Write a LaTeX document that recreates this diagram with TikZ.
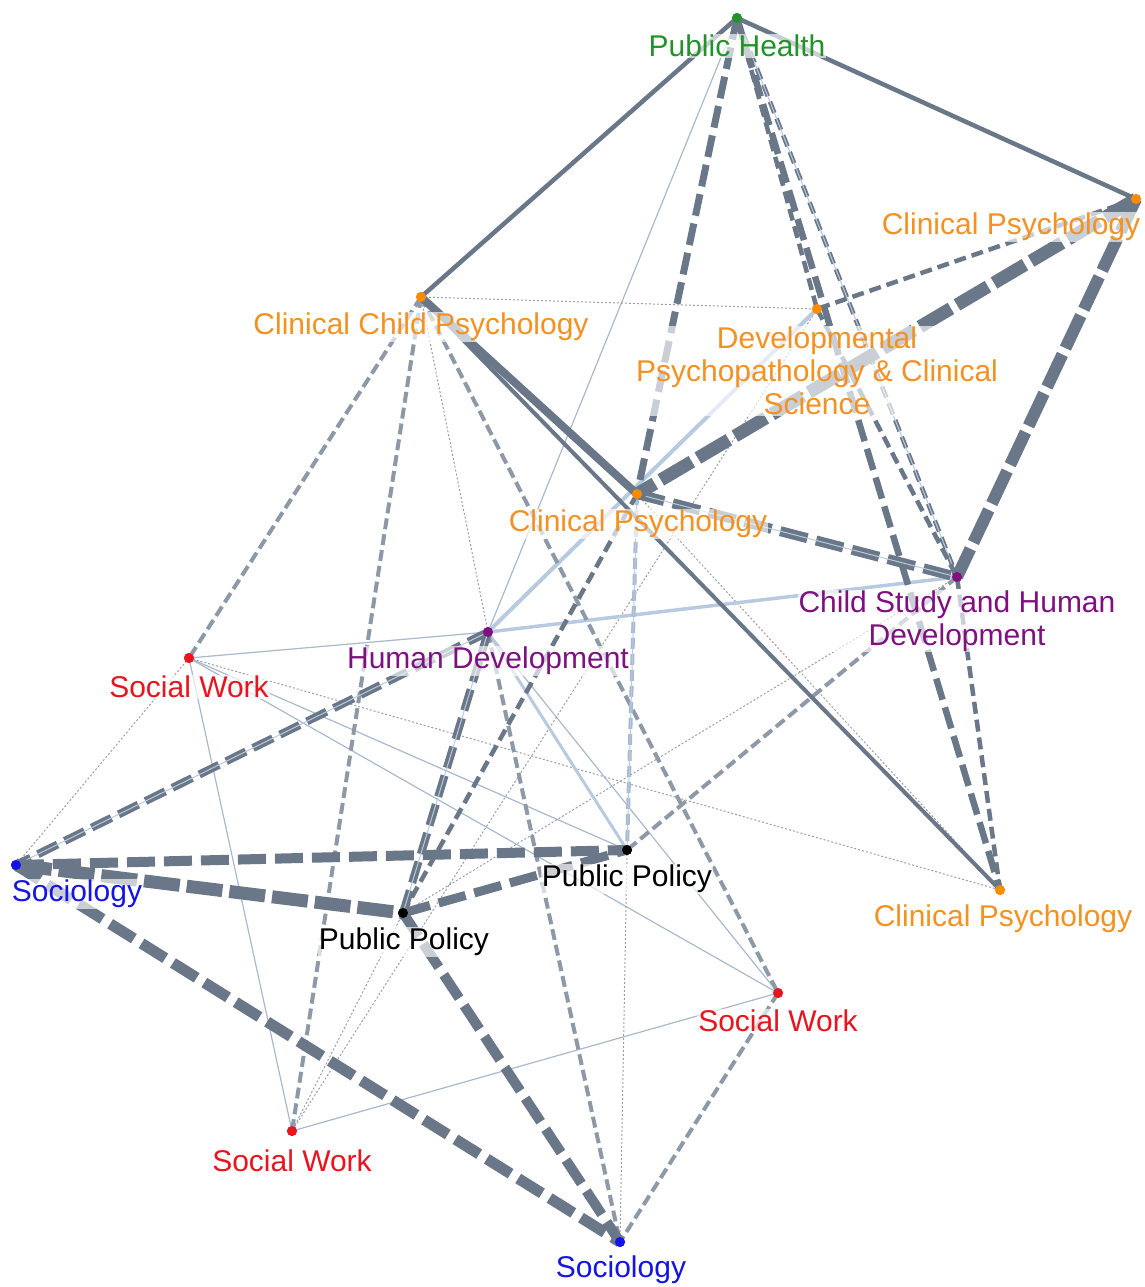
\documentclass[tikz,border=0pt]{standalone}
\usepackage{fontspec}
\setmainfont{Liberation Sans}
\definecolor{edark}{HTML}{6A7788}
\definecolor{emid}{HTML}{8E99A8}
\definecolor{elight}{HTML}{B8CADF}
\definecolor{ethin}{HTML}{A9B9CD}
\definecolor{edot}{HTML}{9A9EA6}
\definecolor{corange}{HTML}{F39122}
\definecolor{dorange}{HTML}{FF8C00}
\definecolor{cgreen}{HTML}{23922A}
\definecolor{cpurple}{HTML}{7E1080}
\definecolor{cred}{HTML}{E8141E}
\definecolor{cblue}{HTML}{1414E6}
\begin{document}
\begin{tikzpicture}[x=1pt,y=-1pt,
  vtx/.style={circle, inner sep=0pt, minimum size=10pt},
  lbl/.style={font=\fontsize{30}{33}\selectfont, fill=white, fill opacity=0.65, text opacity=1, inner sep=1pt, align=center},
  sd/.style={draw=edark, line width=#1},
  sl/.style={draw=elight, line width=#1},
  thn/.style={draw=ethin, line width=1.2pt},
  dotl/.style={draw=edot, line width=1pt, dash pattern=on 2pt off 2pt},
  dA/.style={draw=edark, line width=#1, dash pattern=on 36pt off 7pt},
  dB/.style={draw=edark, line width=#1, dash pattern=on 28pt off 9pt},
  dC/.style={draw=edark, line width=#1, dash pattern=on 22pt off 8pt},
  dD/.style={draw=edark, line width=4.5pt, dash pattern=on 12pt off 6pt},
  dE/.style={draw=emid, line width=4pt, dash pattern=on 11pt off 5pt},
  dF/.style={draw=ethin, line width=4pt, dash pattern=on 11pt off 5pt},
  mid/.style={draw=elight, line width=1pt}
]
\useasboundingbox (0,0) rectangle (1145,1287);
% vertices
\node[vtx, fill=cgreen]  (PH)  at (737,18) {};
\node[vtx, fill=dorange] (CP1) at (1136,199) {};
\node[vtx, fill=dorange] (CCP) at (421,297) {};
\node[vtx, fill=dorange] (DP)  at (817,309) {};
\node[vtx, fill=dorange] (CP2) at (637,494) {};
\node[vtx, fill=cpurple] (CS)  at (957,577) {};
\node[vtx, fill=cpurple] (HD)  at (488,632) {};
\node[vtx, fill=cred]    (SW1) at (189,658) {};
\node[vtx, fill=cblue]   (So1) at (16,865) {};
\node[vtx, fill=black]   (PP1) at (627,850) {};
\node[vtx, fill=black]   (PP2) at (403,913) {};
\node[vtx, fill=dorange] (CP3) at (1000,890) {};
\node[vtx, fill=cred]    (SW2) at (778,993) {};
\node[vtx, fill=cred]    (SW3) at (292,1131) {};
\node[vtx, fill=cblue]   (So2) at (620,1242) {};
% thin edges
\draw[thn] (PH.center) -- (HD.center);
\draw[thn] (HD.center) -- (SW1.center);
\draw[thn] (HD.center) -- (SW2.center);
\draw[thn] (SW1.center) -- (PP1.center);
\draw[thn] (SW1.center) -- (SW2.center);
\draw[thn] (SW1.center) -- (SW3.center);
\draw[thn] (SW2.center) -- (SW3.center);
\draw[dotl] (CCP.center) -- (DP.center);
\draw[dotl] (CCP.center) -- (HD.center);
\draw[dotl] (DP.center) -- (SW3.center);
\draw[dotl] (CP2.center) -- (CP3.center);
\draw[dotl] (CS.center) -- (PP2.center);
\draw[dotl] (SW1.center) -- (So1.center);
\draw[dotl] (SW1.center) -- (CP3.center);
\draw[dotl] (PP2.center) -- (SW3.center);
\draw[dotl] (PP1.center) -- (So2.center);
% light edges
\draw[sl=4pt] (DP.center) -- (HD.center);
\draw[sl=3.5pt] (CS.center) -- (HD.center);
\draw[sl=3pt] (HD.center) -- (PP1.center);
% medium dashed
\draw[dE] (CCP.center) -- (SW1.center);
\draw[dE] (CCP.center) -- (SW3.center);
\draw[dE] (CCP.center) -- (SW2.center);
\draw[dE] (HD.center) -- (So2.center);
\draw[dE] (CS.center) -- (PP1.center);
\draw[dE] (SW2.center) -- (So2.center);
\draw[dF] (CP2.center) -- (PP1.center);
\draw[mid] (CP2.center) -- (PP1.center);
\draw[dD] (PH.center) -- (DP.center);
\draw[dD] (PH.center) -- (CS.center);
\draw[mid] (PH.center) -- (CS.center);
\draw[dD] (CP1.center) -- (DP.center);
\draw[dD] (DP.center) -- (CS.center);
\draw[dD] (CS.center) -- (CP3.center);
\draw[dD] (CP2.center) -- (PP2.center);
% solid dark
\draw[sd=4.5pt] (PH.center) -- (CCP.center);
\draw[sd=4.5pt] (PH.center) -- (CP1.center);
\draw[sd=4pt] (CCP.center) -- (CP3.center);
\draw[sd=8pt] (CCP.center) -- (CP2.center);
% thick dashed
\draw[dC=7pt] (PH.center) -- (CP2.center);
\draw[dC=6.5pt] (PH.center) -- (CP3.center);
\draw[dC=8pt] (HD.center) -- (So1.center);
\draw[mid] (HD.center) -- (So1.center);
\draw[dC=8pt] (HD.center) -- (PP2.center);
\draw[mid] (HD.center) -- (PP2.center);
\draw[dB=10pt] (CP2.center) -- (CS.center);
\draw[mid] (CP2.center) -- (CS.center);
\draw[dB=10pt] (So1.center) -- (PP1.center);
\draw[dB=9pt] (PP2.center) -- (PP1.center);
\draw[dB=11pt] (So1.center) -- (So2.center);
\draw[dB=10pt] (PP2.center) -- (So2.center);
\draw[dA=13pt] (So1.center) -- (PP2.center);
\draw[dA=13pt] (CP1.center) -- (CP2.center);
\draw[dA=12pt] (CP1.center) -- (CS.center);
% redraw vertex dots on top
\foreach \n/\c in {PH/cgreen,CP1/dorange,CCP/dorange,DP/dorange,CP2/dorange,CS/cpurple,HD/cpurple,SW1/cred,So1/cblue,PP1/black,PP2/black,CP3/dorange,SW2/cred,SW3/cred,So2/cblue}
  \fill[\c] (\n.center) circle (5pt);
% labels
\node[lbl, text=cgreen]  (PHl)  at (737,46)   {Public Health};
\node[lbl, text=corange] (CP1l) at (1011,227) {Clinical Psychology};
\node[lbl, text=corange] (CCPl) at (421,327)  {Clinical Child Psychology};
\node[lbl, text=corange] (DPl)  at (817,371)  {Developmental\\Psychopathology \& Clinical\\Science};
\node[lbl, text=corange] (CP2l) at (638,524)  {Clinical Psychology};
\node[lbl, text=cpurple] (CSl)  at (957,621)  {Child Study and Human\\Development};
\node[lbl, text=cpurple] (HDl)  at (488,661)  {Human Development};
\node[lbl, text=cred]    (SW1l) at (189,687)  {Social Work};
\node[lbl, text=cblue]   (So1l) at (77,894)   {Sociology};
\node[lbl, text=black]   (PP1l) at (627,879)  {Public Policy};
\node[lbl, text=black]   (PP2l) at (404,942)  {Public Policy};
\node[lbl, text=corange] (CP3l) at (1003,919) {Clinical Psychology};
\node[lbl, text=cred]    (SW2l) at (778,1021) {Social Work};
\node[lbl, text=cred]    (SW3l) at (292,1161) {Social Work};
\node[lbl, text=cblue]   (So2l) at (621,1270) {Sociology};
\end{tikzpicture}
\end{document}
